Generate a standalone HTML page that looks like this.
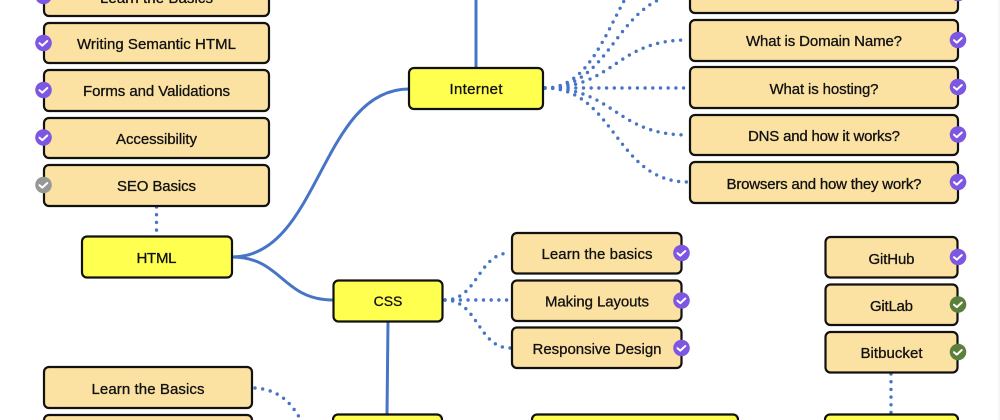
<!DOCTYPE html>
<html>
<head>
<meta charset="utf-8">
<style>
html,body{margin:0;padding:0;background:#fff;width:1000px;height:420px;overflow:hidden}
svg{display:block}
.b{fill:#fbe2a2;stroke:#111;stroke-width:2.2}
.y{fill:#ffff4f;stroke:#111;stroke-width:2.2}
.s{fill:none;stroke:#4674c6;stroke-width:3}
.d{fill:none;stroke:#4674c6;stroke-width:3.4;stroke-linecap:round;stroke-dasharray:0 7.7}
text{font-family:"Liberation Sans",sans-serif;font-size:15px;fill:#111;text-anchor:middle;stroke:#111;stroke-width:.3}
.c{fill:none;stroke:#fff;stroke-width:2;stroke-linecap:round;stroke-linejoin:round}
</style>
</head>
<body>
<svg width="1000" height="420" viewBox="0 0 1000 420" xmlns="http://www.w3.org/2000/svg">
<rect x="998" y="0" width="2" height="420" fill="#f6f6f6"/>

<!-- solid connectors -->
<path class="s" d="M476,0V68"/>
<path class="s" d="M232,257C320,257 320,89 409,89"/>
<path class="s" d="M232,257C282,257 282,300 333,300"/>
<path class="s" d="M388,321L387,414"/>

<!-- dotted connectors -->
<path class="d" d="M545,88C615,88 615,-54 690,-54"/>
<path class="d" d="M545,88C615,88 615,-7 690,-7"/>
<path class="d" d="M545,88C615,88 615,40 688,40"/>
<path class="d" d="M545,88H685"/>
<path class="d" d="M545,88C615,88 615,135 688,135"/>
<path class="d" d="M545,88C615,88 615,182 688,182"/>
<path class="d" d="M445,300C478,300 478,253 510,253"/>
<path class="d" d="M445,300H508"/>
<path class="d" d="M445,300C478,300 478,348 510,348"/>
<path class="d" d="M156.500,207V236"/>
<path class="d" d="M891,374V414"/>
<path class="d" d="M255,388C285,390 296,410 306,430"/>

<!-- left column -->
<rect class="b" x="44" y="-25" width="225" height="41" rx="5"/>
<rect class="b" x="44" y="23" width="225" height="40" rx="5"/>
<rect class="b" x="44" y="70" width="225" height="41" rx="5"/>
<rect class="b" x="44" y="118" width="225" height="40" rx="5"/>
<rect class="b" x="44" y="165" width="225" height="41" rx="5"/>
<text x="156.500" y="3" textLength="113">Learn the Basics</text>
<text x="156.500" y="49" textLength="159">Writing Semantic HTML</text>
<text x="156.500" y="96" textLength="147">Forms and Validations</text>
<text x="156.500" y="144" textLength="81">Accessibility</text>
<text x="156.500" y="191" textLength="79">SEO Basics</text>

<!-- right column -->
<rect class="b" x="690" y="-28" width="268" height="41" rx="5"/>
<rect class="b" x="690" y="20" width="268" height="41" rx="5"/>
<rect class="b" x="690" y="67" width="268" height="41" rx="5"/>
<rect class="b" x="690" y="115" width="268" height="40" rx="5"/>
<rect class="b" x="690" y="162" width="268" height="41" rx="5"/>
<text x="824" y="46" textLength="156">What is Domain Name?</text>
<text x="824" y="94" textLength="109">What is hosting?</text>
<text x="824" y="141" textLength="152">DNS and how it works?</text>
<text x="824" y="189" textLength="195">Browsers and how they work?</text>

<!-- main nodes -->
<rect class="y" x="409" y="68" width="134" height="41" rx="5"/>
<text x="476" y="94" textLength="53">Internet</text>
<rect class="y" x="82" y="236.500" width="150" height="41" rx="5"/>
<text x="156.500" y="263" textLength="40">HTML</text>
<rect class="y" x="333.500" y="280.500" width="109" height="41" rx="5"/>
<text x="388" y="306" style="font-size:14px">CSS</text>
<rect class="y" x="333" y="414.500" width="109" height="41" rx="5"/>
<rect class="y" x="532" y="414.500" width="206" height="41" rx="5"/>
<rect class="y" x="825" y="414.500" width="133" height="41" rx="5"/>

<!-- lower left -->
<rect class="b" x="44" y="367" width="208" height="41" rx="5"/>
<rect class="b" x="44" y="415" width="208" height="41" rx="5"/>
<text x="148" y="394" textLength="113">Learn the Basics</text>

<!-- CSS children -->
<rect class="b" x="512" y="233" width="169.500" height="40.500" rx="5"/>
<rect class="b" x="512" y="280.500" width="169.500" height="40.500" rx="5"/>
<rect class="b" x="512" y="327.500" width="169.500" height="40.500" rx="5"/>
<text x="597" y="259" textLength="111">Learn the basics</text>
<text x="597" y="306.500" textLength="104">Making Layouts</text>
<text x="597" y="354" textLength="129">Responsive Design</text>

<!-- VCS -->
<rect class="b" x="825.500" y="237" width="132" height="40.500" rx="5"/>
<rect class="b" x="825.500" y="284.500" width="132" height="40.500" rx="5"/>
<rect class="b" x="825.500" y="332" width="132" height="40.500" rx="5"/>
<text x="891.500" y="264" textLength="46">GitHub</text>
<text x="891.500" y="311" textLength="43">GitLab</text>
<text x="891.500" y="358" textLength="62">Bitbucket</text>

<!-- badges -->
<g fill="#7d57e2">
<circle cx="43.500" cy="-4" r="8.300"/>
<circle cx="43.500" cy="43" r="8.300"/>
<circle cx="43.500" cy="90" r="8.300"/>
<circle cx="43.500" cy="137.500" r="8.300"/>
<circle cx="958" cy="-7" r="8.300"/>
<circle cx="958" cy="40" r="8.300"/>
<circle cx="958" cy="87" r="8.300"/>
<circle cx="958" cy="134.500" r="8.300"/>
<circle cx="958" cy="182" r="8.300"/>
<circle cx="681.500" cy="253" r="8.300"/>
<circle cx="681.500" cy="300.500" r="8.300"/>
<circle cx="681.500" cy="348" r="8.300"/>
<circle cx="958" cy="257" r="8.300"/>
</g>
<circle cx="43.500" cy="185" r="8.300" fill="#979797"/>
<circle cx="958" cy="304.500" r="8.300" fill="#5c7f3c"/>
<circle cx="958" cy="352" r="8.300" fill="#5c7f3c"/>
<g class="c">
<path d="M39.500,43.200l2.800,2.400l5,-4.600"/>
<path d="M39.500,90.200l2.800,2.400l5,-4.600"/>
<path d="M39.500,137.700l2.800,2.400l5,-4.600"/>
<path d="M39.500,185.200l2.800,2.400l5,-4.600"/>
<path d="M954,40.200l2.800,2.400l5,-4.600"/>
<path d="M954,87.200l2.800,2.400l5,-4.600"/>
<path d="M954,134.700l2.800,2.400l5,-4.600"/>
<path d="M954,182.200l2.800,2.400l5,-4.600"/>
<path d="M677.500,253.200l2.800,2.400l5,-4.600"/>
<path d="M677.500,300.700l2.800,2.400l5,-4.600"/>
<path d="M677.500,348.200l2.800,2.400l5,-4.600"/>
<path d="M954,257.200l2.800,2.400l5,-4.600"/>
<path d="M954,304.700l2.800,2.400l5,-4.600"/>
<path d="M954,352.200l2.800,2.400l5,-4.600"/>
</g>
</svg>
</body>
</html>
